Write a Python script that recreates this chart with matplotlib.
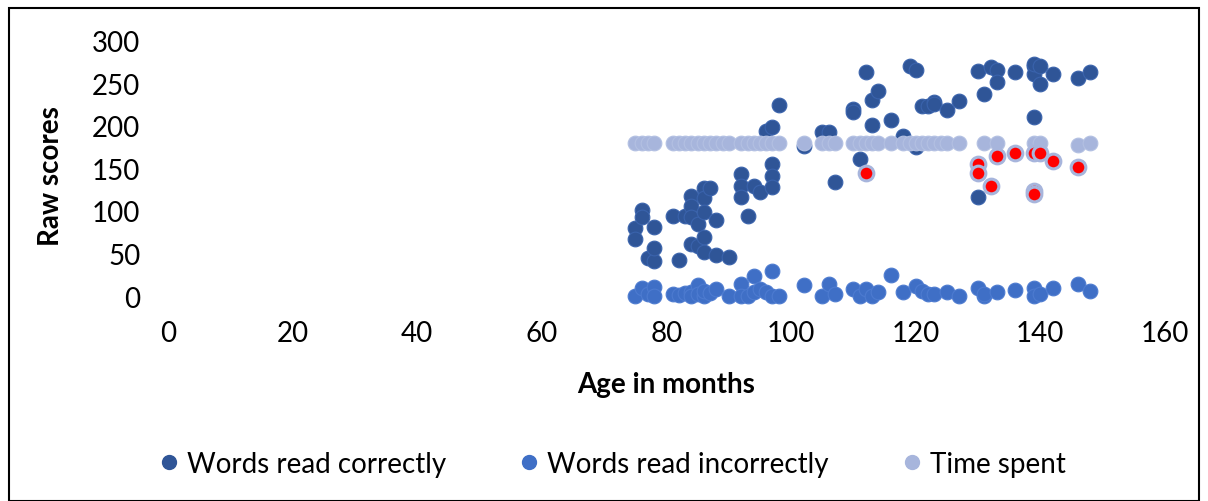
import matplotlib
matplotlib.use("Agg")
import matplotlib.pyplot as plt
from matplotlib.patches import Rectangle
from matplotlib.lines import Line2D

plt.rcParams['font.family'] = ['Lato', 'DejaVu Sans']

# Words read correctly
correct_age = [75, 75, 76, 76, 77, 78, 78, 78,
               81, 82, 83, 84, 84, 84, 84, 85, 85, 86, 86, 86, 86, 86, 87, 88, 88, 90,
               92, 92, 92, 93, 94, 95, 96, 97, 97, 97, 97, 98,
               102, 105, 106, 107,
               110, 110, 111, 112, 113, 113, 114, 116, 118, 119, 120, 120, 121, 122, 123, 123, 125, 127,
               130, 130, 131, 132, 133, 133, 136, 139, 139, 139, 139, 140, 140, 142, 146, 148]
correct_val = [80, 67, 101, 93, 45, 41, 56, 81,
               94, 42, 94, 118, 106, 93, 61, 85, 59, 127, 115, 99, 69, 52, 127, 89, 48, 46,
               143, 129, 116, 94, 129, 122, 194, 199, 155, 141, 128, 225,
               176, 193, 193, 134,
               220, 216, 161, 264, 231, 201, 241, 207, 188, 271, 266, 175, 224, 224, 228, 226, 219, 229,
               265, 116, 238, 270, 266, 252, 263, 271, 261, 211, 273, 271, 249, 261, 256, 264]

# Words read incorrectly
incorrect_age = [75, 76, 77, 78, 78,
                 81, 82, 83, 84, 84, 85, 85, 86, 86, 87, 88, 90,
                 92, 92, 93, 94, 94, 95, 96, 97, 97, 98,
                 102, 105, 106, 107, 110, 111, 112, 113, 114, 116, 118, 120, 121, 122, 123, 125, 127,
                 130, 131, 131, 133, 136, 139, 139, 140, 142, 146, 148]
incorrect_val = [0, 9, 2, 11, 0,
                 2, 1, 4, 5, 0, 13, 2, 0, 6, 3, 8, 0,
                 14, 0, 0, 24, 5, 8, 5, 29, 0, 0,
                 13, 0, 14, 2, 8, 0, 8, 0, 5, 25, 5, 12, 6, 2, 2, 5, 0,
                 9, 0, 2, 5, 7, 10, 0, 2, 9, 14, 6]

# Time spent
time_age = [75, 76, 77, 78, 81, 82, 83, 84, 85, 86, 87, 88, 89, 90, 92, 93, 94, 95, 96, 97, 98,
            102, 105, 106, 107, 110, 111, 112, 113, 114, 116, 118, 119, 120, 121, 122, 123, 124, 125, 127,
            131, 133, 139, 140, 146, 148]
time_val = [180, 180, 180, 180, 180, 180, 180, 180, 180, 180, 180, 180, 180, 180, 180, 180, 180, 180,
            180, 180, 180, 180, 180, 180, 180, 180, 180, 180, 180, 180, 180, 180, 180, 180, 180, 180,
            180, 180, 180, 180, 180, 180, 180, 180, 178, 180]
# Time spent, highlighted points (red)
time_hl_age = [112, 130, 130, 132, 133, 136, 139, 139, 139, 140, 142, 146]
time_hl_val = [145, 155, 145, 129, 165, 168, 168, 124, 120, 168, 159, 152]

x_ticks = [0, 20, 40, 60, 80, 100, 120, 140, 160]
y_ticks = [0, 50, 100, 150, 200, 250, 300]

c_correct = '#2F5597'
c_incorrect = '#3F6FC6'
c_time = '#A7B5DC'
c_red = '#FF0000'

W, H = 1208, 502
fig = plt.figure(figsize=(W / 100, H / 100), dpi=100)
ax = fig.add_axes([168 / W, 1 - 297 / H, (1165 - 168) / W, (297 - 42) / H])

s = 112
ax.scatter(correct_age, correct_val, s=s, color=c_correct, edgecolors='#3A63AC',
           linewidths=0.8, zorder=3, clip_on=False)
ax.scatter(incorrect_age, incorrect_val, s=s, color=c_incorrect, edgecolors='#4D7BD0',
           linewidths=0.8, zorder=3, clip_on=False)
ax.scatter(time_age, time_val, s=s, color=c_time, edgecolors='#B3C0E2',
           linewidths=0.8, zorder=4, clip_on=False)
ax.scatter(time_hl_age, time_hl_val, s=s, color=c_red, edgecolors=c_time,
           linewidths=2.2, zorder=5, clip_on=False)

ax.set_xlim(0, 160)
ax.set_ylim(0, 300)
ax.set_xticks(x_ticks)
ax.set_yticks(y_ticks)
ax.tick_params(length=0, labelsize=20)
ax.tick_params(axis='x', pad=17)
ax.tick_params(axis='y', pad=20)
for sp in ax.spines.values():
    sp.set_visible(False)

fig.text(51 / W, 1 - 176 / H, 'Raw scores', rotation=90, ha='center', va='center',
         fontsize=20, fontweight='bold')
fig.text(666 / W, 1 - 385 / H, 'Age in months', ha='center', va='center',
         fontsize=20, fontweight='bold')

handles = [Line2D([], [], marker='o', linestyle='', markersize=10, color=c) for c in
           (c_correct, c_incorrect, c_time)]
fig.legend(handles, ['Words read correctly', 'Words read incorrectly', 'Time spent'],
           loc='center', bbox_to_anchor=(614 / W, 1 - 465 / H), ncol=3, frameon=False,
           fontsize=20, handlelength=0.5, handletextpad=0.4, columnspacing=2.75)

fig.add_artist(Rectangle((9 / W, 0), (1199 - 9) / W, 1 - 9 / H, transform=fig.transFigure,
                         fill=False, edgecolor='black', linewidth=1.5))

fig.savefig('out.png', dpi=100)
